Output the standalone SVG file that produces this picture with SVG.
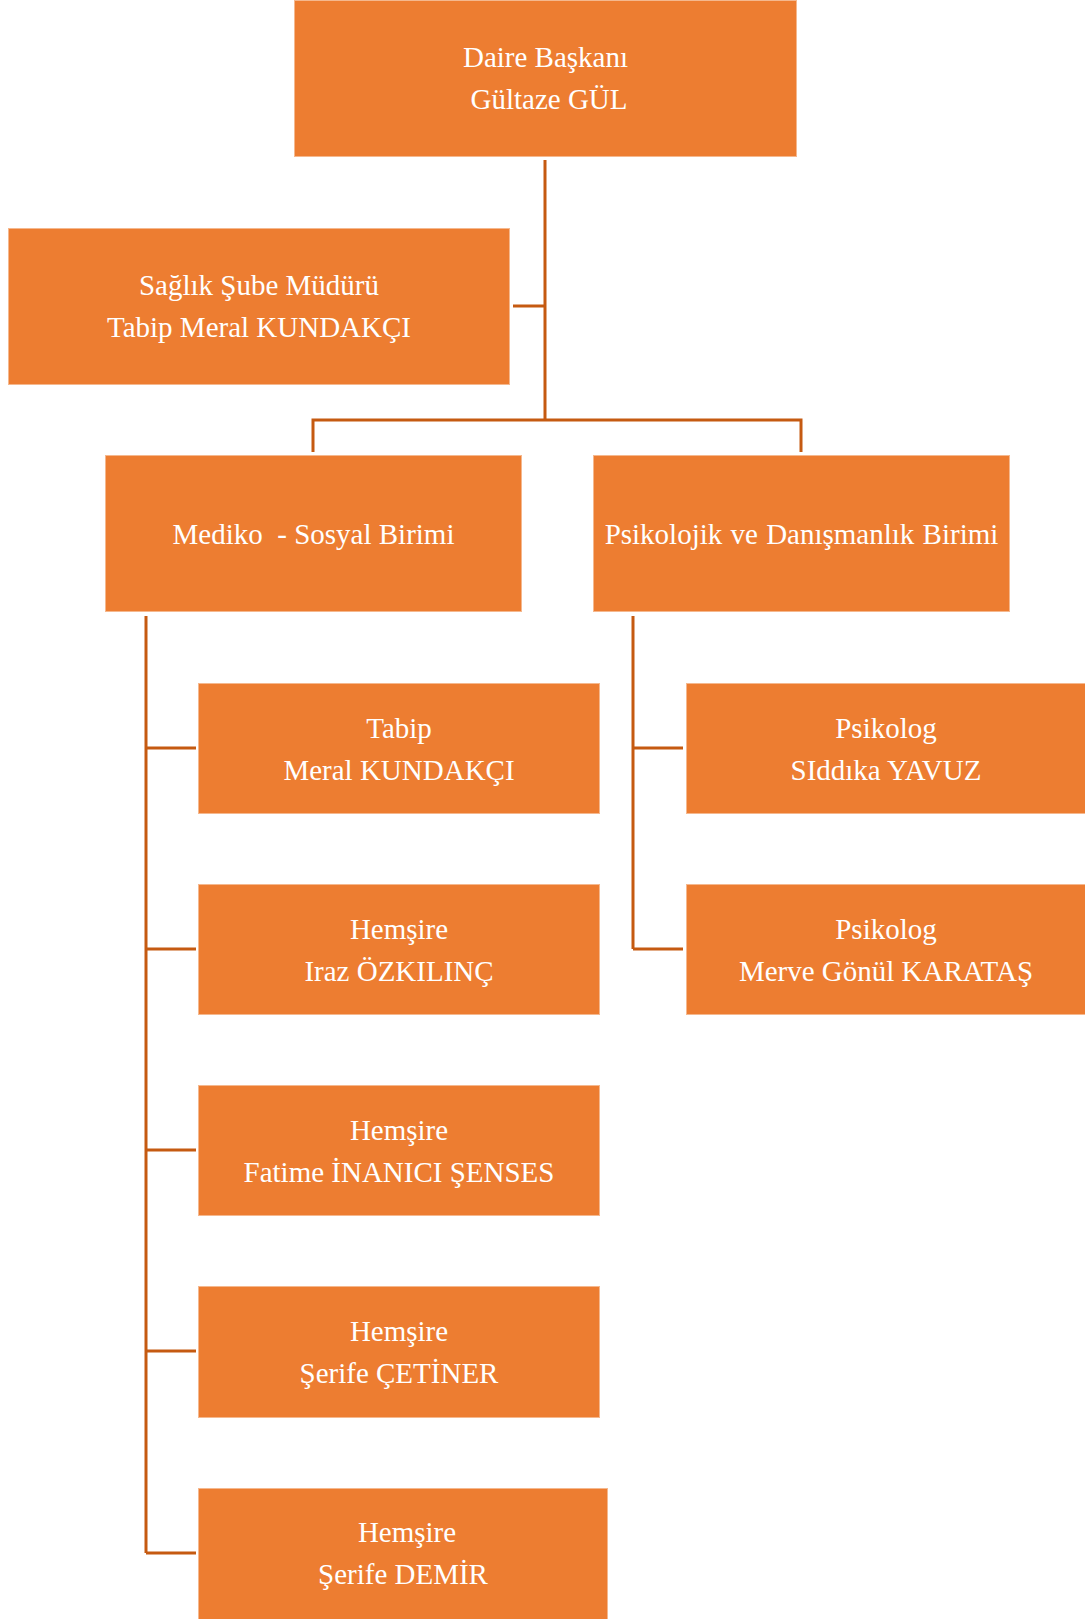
<svg xmlns="http://www.w3.org/2000/svg" width="1085" height="1619" viewBox="0 0 1085 1619">
<style>
.box{fill:#ED7D31;stroke:#F5B88E;stroke-width:1}
.t{font-family:"Liberation Serif","Times New Roman",serif;font-size:29px;fill:#FFFFFF;text-anchor:middle;white-space:pre}
.c{fill:none;stroke:#C55A11;stroke-width:3}
</style>
<rect width="1085" height="1619" fill="#FFFFFF"/>
<g id="connectors" class="c">
<path d="M545 160V420M513 306H545M313 452V420H801V452"/>
<path d="M146 616V1553M146 748H196M146 949H196M146 1150H196M146 1351H196M146 1553H196"/>
<path d="M633 616V949M633 748H683M633 949H683"/>
</g>
<g id="daire">
<rect class="box" x="294.5" y="0.5" width="502" height="156"/>
<text class="t" x="545.5" y="67">Daire Başkanı</text>
<text class="t" x="549" y="109">Gültaze GÜL</text>
</g>
<g id="sube">
<rect class="box" x="8.5" y="228.5" width="501" height="156"/>
<text class="t" x="259" y="295">Sağlık Şube Müdürü</text>
<text class="t" x="259" y="337">Tabip Meral KUNDAKÇI</text>
</g>
<g id="mediko">
<rect class="box" x="105.5" y="455.5" width="416" height="156"/>
<text class="t" x="313.5" y="544">Mediko  - Sosyal Birimi</text>
</g>
<g id="psikolojik">
<rect class="box" x="593.5" y="455.5" width="416" height="156"/>
<text class="t" x="801.5" y="544" word-spacing="1">Psikolojik ve Danışmanlık Birimi</text>
</g>
<g id="tabip">
<rect class="box" x="198.5" y="683.5" width="401" height="130"/>
<text class="t" x="399" y="738">Tabip</text>
<text class="t" x="399" y="780">Meral KUNDAKÇI</text>
</g>
<g id="hemsire1">
<rect class="box" x="198.5" y="884.5" width="401" height="130"/>
<text class="t" x="399" y="939">Hemşire</text>
<text class="t" x="399" y="981">Iraz ÖZKILINÇ</text>
</g>
<g id="hemsire2">
<rect class="box" x="198.5" y="1085.5" width="401" height="130"/>
<text class="t" x="399" y="1140">Hemşire</text>
<text class="t" x="399" y="1182">Fatime İNANICI ŞENSES</text>
</g>
<g id="hemsire3">
<rect class="box" x="198.5" y="1286.5" width="401" height="131"/>
<text class="t" x="399" y="1341">Hemşire</text>
<text class="t" x="399" y="1383">Şerife ÇETİNER</text>
</g>
<g id="hemsire4">
<rect class="box" x="198.5" y="1488.5" width="409" height="140"/>
<text class="t" x="407" y="1542">Hemşire</text>
<text class="t" x="403" y="1584">Şerife DEMİR</text>
</g>
<g id="psikolog1">
<rect class="box" x="686.5" y="683.5" width="410" height="130"/>
<text class="t" x="886" y="738">Psikolog</text>
<text class="t" x="886" y="780">SIddıka YAVUZ</text>
</g>
<g id="psikolog2">
<rect class="box" x="686.5" y="884.5" width="410" height="130"/>
<text class="t" x="886" y="939">Psikolog</text>
<text class="t" x="886" y="981">Merve Gönül KARATAŞ</text>
</g>
</svg>
